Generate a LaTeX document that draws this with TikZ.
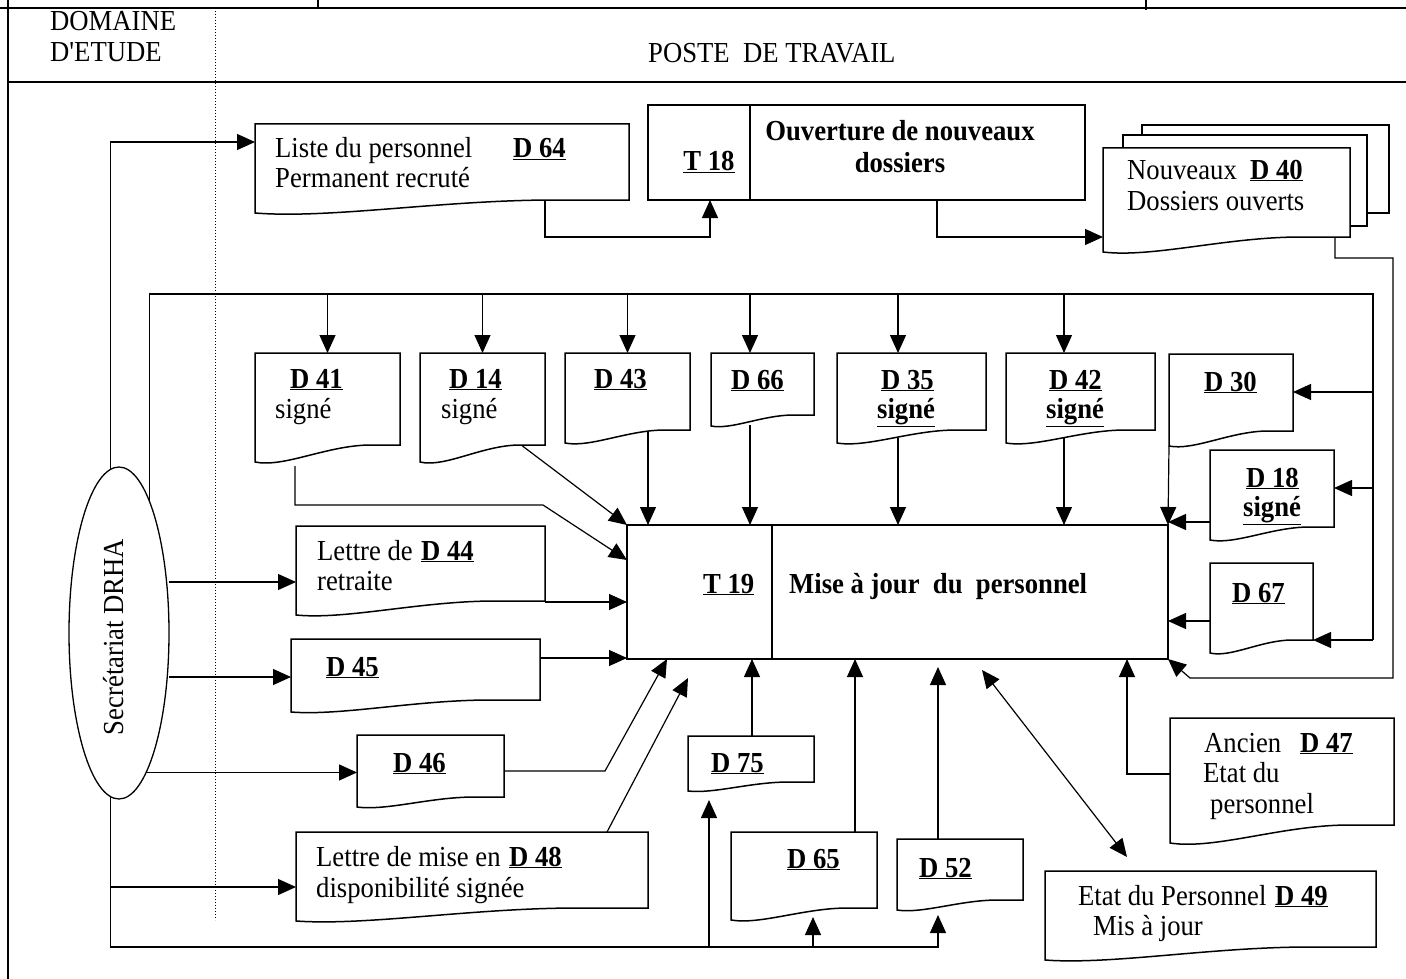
\documentclass[tikz,border=0pt]{standalone}
\usepackage{fontspec}
\setmainfont{Liberation Serif}
% same face without TeX ligature mapping, for a straight apostrophe
\newfontfamily\rawserif{Liberation Serif}
\usetikzlibrary{arrows.meta,calc,shapes.geometric,fit}

% bold underlined document / task number
\newcommand{\dnum}[1]{\underline{\textbf{#1}}}
% outline of a document symbol fitted to node #1:
% #2 = how much higher the right end of the wavy bottom is, #3 = dip of the wave
\newcommand{\docline}[3]{%
  \draw[shapeline] (#1.north west) -- (#1.north east) -- ($(#1.south east)+(0,-#2)$)
    -- ($(#1.south west)!0.8!(#1.south east)+(0,-#2)$)
    .. controls ($(#1.south west)!0.5!(#1.south east)+(0,-#2)$)
       and ($(#1.south west)!0.2!(#1.south east)+(0,#3)$) .. (#1.south west) -- cycle;}

\begin{document}
\begin{tikzpicture}[x=1pt,y=-1pt,
  shapeline/.style={line width=1.5pt, line join=miter},
  frame/.style={line width=1.3pt},
  docbox/.style={rectangle, inner sep=0pt, outer sep=0pt, draw=none},
  procbox/.style={rectangle, inner sep=0pt, outer sep=0pt, draw, line width=1.5pt},
  conn/.style={line width=1.2pt},
  arr/.style={conn, -{Triangle[length=18pt,width=16pt]}},
  darr/.style={conn, {Triangle[length=18pt,width=16pt]}-{Triangle[length=18pt,width=16pt]}},
  lbl/.style={inner sep=0pt, xscale=0.92, font=\fontsize{29}{33}\selectfont, anchor=base west},
  clbl/.style={lbl, anchor=base},
  blbl/.style={lbl, font=\fontsize{29}{33}\selectfont\bfseries}
]
\useasboundingbox (0,0) rectangle (1406,979);

% ---------- header of the table ----------
\draw[frame] (0,8) -- (1406,8);
\draw[frame] (318,0) -- (318,8);
\draw[frame] (1146,0) -- (1146,10);
\draw[frame] (8,0) -- (8,979);
\draw[frame] (8,82) -- (1406,82);
\draw[line width=1pt, dotted] (215,8) -- (215,920);
\node[lbl] (dom1) at (50,31) {DOMAINE};
\node[lbl] (dom2) at (50,62) {D{\rawserif '}ETUDE};
\node[lbl] (poste) at (648,63) {POSTE~~DE TRAVAIL};

% ---------- actor ----------
\node[ellipse, draw, line width=1.3pt, inner sep=0pt, outer sep=0pt,
      minimum width=100pt, minimum height=332pt] (sec) at (119,633) {};
\node[rotate=90, lbl, anchor=center] (sectxt) at (114,637) {Secrétariat DRHA};

% ---------- top row ----------
\node[docbox, fit={(255,124) (629,213)}] (d64) {};
\docline{d64}{13}{6}
\node[lbl] (d64a) at (275,158) {Liste du personnel};
\node[lbl] (d64n) at (513,158) {\dnum{D 64}};
\node[lbl] (d64b) at (275,188) {Permanent recruté};

\node[procbox, fit={(648,105) (1085,200)}] (t18) {};
\draw[shapeline] ($(t18.north west)+(102,0)$) -- ($(t18.south west)+(102,0)$);
\node[clbl] (t18n) at (709,171) {\dnum{T 18}};
\node[clbl, font=\fontsize{29}{33}\selectfont\bfseries] (t18a) at (900,141) {Ouverture de nouveaux};
\node[clbl, font=\fontsize{29}{33}\selectfont\bfseries] (t18b) at (900,172) {dossiers};

% stacked documents D 40
\draw[shapeline] (1142,135) -- (1142,125) -- (1389,125) -- (1389,213) -- (1367,213);
\draw[shapeline] (1123,148) -- (1123,135) -- (1367,135) -- (1367,226) -- (1350,226);
\node[docbox, fit={(1103,148) (1350,252)}] (d40) {};
\docline{d40}{15}{6}
\node[lbl] (d40a) at (1127,179) {Nouveaux};
\node[lbl] (d40n) at (1250,179) {\dnum{D 40}};
\node[lbl] (d40b) at (1127,210) {Dossiers ouverts};

% ---------- second row ----------
\node[docbox, fit={(255,353) (400,462)}] (d41) {};
\docline{d41}{17}{6}
\node[lbl] (d41n) at (290,388) {\dnum{D 41}};
\node[lbl] (d41s) at (275,418) {signé};

\node[docbox, fit={(420,353) (545,462)}] (d14) {};
\docline{d14}{17}{6}
\node[lbl] (d14n) at (449,388) {\dnum{D 14}};
\node[lbl] (d14s) at (441,418) {signé};

\node[docbox, fit={(565,353) (690,443)}] (d43) {};
\docline{d43}{13}{5}
\node[lbl] (d43n) at (594,388) {\dnum{D 43}};

\node[docbox, fit={(711,353) (814,426)}] (d66) {};
\docline{d66}{11}{4}
\node[lbl] (d66n) at (731,389) {\dnum{D 66}};

\node[docbox, fit={(837,353) (986,443)}] (d35) {};
\docline{d35}{13}{5}
\node[lbl] (d35n) at (881,389) {\dnum{D 35}};
\node[lbl] (d35s) at (877,418) {\dnum{signé}};

\node[docbox, fit={(1006,353) (1155,443)}] (d42) {};
\docline{d42}{13}{5}
\node[lbl] (d42n) at (1049,389) {\dnum{D 42}};
\node[lbl] (d42s) at (1046,418) {\dnum{signé}};

\node[docbox, fit={(1169,354) (1293,446)}] (d30) {};
\docline{d30}{15}{5}
\node[lbl] (d30n) at (1204,391) {\dnum{D 30}};

\node[docbox, fit={(1210,450) (1334,540)}] (d18) {};
\docline{d18}{13}{5}
\node[lbl] (d18n) at (1246,487) {\dnum{D 18}};
\node[lbl] (d18s) at (1243,516) {\dnum{signé}};

\node[docbox, fit={(1210,563) (1313,653)}] (d67) {};
\docline{d67}{13}{5}
\node[lbl] (d67n) at (1232,602) {\dnum{D 67}};

% ---------- central task ----------
\node[procbox, fit={(627,525) (1168,659)}] (t19) {};
\draw[shapeline] ($(t19.north west)+(145,0)$) -- ($(t19.south west)+(145,0)$);
\node[lbl] (t19n) at (703,593) {\dnum{T 19}};
\node[blbl] (t19a) at (789,593) {Mise à jour~~du~~personnel};

% ---------- left column ----------
\node[docbox, fit={(296,526) (545,615)}] (d44) {};
\docline{d44}{14}{5}
\node[lbl] (d44a) at (317,560) {Lettre de};
\node[lbl] (d44n) at (421,560) {\dnum{D 44}};
\node[lbl] (d44b) at (317,590) {retraite};

\node[docbox, fit={(291,639) (540,712)}] (d45) {};
\docline{d45}{12}{4}
\node[lbl] (d45n) at (326,676) {\dnum{D 45}};

\node[docbox, fit={(357,735) (504,807)}] (d46) {};
\docline{d46}{10}{4}
\node[lbl] (d46n) at (393,772) {\dnum{D 46}};

\node[docbox, fit={(296,832) (648,921)}] (d48) {};
\docline{d48}{13}{5}
\node[lbl] (d48a) at (316,866) {Lettre de mise en};
\node[lbl] (d48n) at (509,866) {\dnum{D 48}};
\node[lbl] (d48b) at (316,897) {disponibilité signée};

% ---------- bottom row ----------
\node[docbox, fit={(688,736) (814,791)}] (d75) {};
\docline{d75}{9}{3}
\node[lbl] (d75n) at (711,772) {\dnum{D 75}};

\node[docbox, fit={(731,832) (877,920)}] (d65) {};
\docline{d65}{12}{5}
\node[lbl] (d65n) at (787,868) {\dnum{D 65}};

\node[docbox, fit={(897,839) (1023,910)}] (d52) {};
\docline{d52}{10}{4}
\node[lbl] (d52n) at (919,877) {\dnum{D 52}};

\node[docbox, fit={(1170,718) (1394,843)}] (d47) {};
\docline{d47}{18}{7}
\node[lbl] (d47a) at (1204,752) {Ancien};
\node[lbl] (d47n) at (1300,752) {\dnum{D 47}};
\node[lbl] (d47b) at (1203,782) {Etat du};
\node[lbl] (d47c) at (1210,813) {personnel};

\node[docbox, fit={(1045,871) (1376,960)}] (d49) {};
\docline{d49}{13}{5}
\node[lbl] (d49a) at (1078,905) {Etat du Personnel};
\node[lbl] (d49n) at (1275,905) {\dnum{D 49}};
\node[lbl] (d49b) at (1093,935) {Mis à jour};

% ---------- connection points ----------
\coordinate (bus) at (1373,294);
\coordinate (busend) at (1373,640);
\coordinate (d64in) at ($(d64.north west)+(0,18)$);
\coordinate (d64out) at ($(d64.south west)+(290,-13)$);
\coordinate (t18in) at ($(t18.south west)+(62,0)$);
\coordinate (t18out) at ($(t18.south west)+(289,0)$);
\coordinate (d40in) at ($(d40.north west)+(0,89)$);
\coordinate (d40out) at ($(d40.south east)+(-15,-15)$);
\coordinate (d66in) at ($(d66.north west)+(39,0)$);
\coordinate (d35in) at ($(d35.north west)+(61,0)$);
\coordinate (d42in) at ($(d42.north west)+(58,0)$);
\coordinate (d30in) at ($(d30.north east)+(0,38)$);
\coordinate (d18in) at ($(d18.north east)+(0,38)$);
\coordinate (d41out) at ($(d41.south west)+(40,4)$);
\coordinate (d14out) at ($(d14.south west)!0.82!(d14.south east)+(0,-16)$);
\coordinate (d43out) at ($(d43.south west)+(83,-12)$);
\coordinate (d66out) at ($(d66.south west)+(39,-1)$);
\coordinate (d35out) at ($(d35.south west)+(61,-5)$);
\coordinate (d42out) at ($(d42.south west)+(58,-5)$);
\coordinate (d18out) at ($(d18.north west)+(0,72)$);
\coordinate (d67out) at ($(d67.north west)+(0,58)$);
\coordinate (t19inA) at ($(t19.north west)+(0,35)$);
\coordinate (d44in) at ($(d44.north west)+(0,56)$);
\coordinate (d44out) at ($(d44.south east)+(0,-13)$);
\coordinate (d45in) at ($(d45.north west)+(0,38)$);
\coordinate (d45out) at ($(d45.north east)+(0,19)$);
\coordinate (t19inB) at ($(t19.south west)+(40,0)$);
\coordinate (d48in) at ($(d48.north west)+(0,55)$);
\coordinate (d48out) at ($(d48.north west)+(311,0)$);
\coordinate (t19inC) at ($(t19.south west)+(61,19)$);
\coordinate (d75top) at ($(d75.north west)+(64,0)$);
\coordinate (d65top) at ($(d65.north west)+(124,0)$);
\coordinate (d52top) at ($(d52.north west)+(41,0)$);
\coordinate (bb75) at (709,947);
\coordinate (bb65) at (813,947);
\coordinate (bb52) at (938,947);
\coordinate (d75bot) at ($(d75.south west)+(21,9)$);
\coordinate (d65bot) at ($(d65.south west)+(82,-3)$);
\coordinate (d52bot) at ($(d52.south west)+(41,5)$);
\coordinate (d47out) at ($(d47.north west)+(0,56)$);
\coordinate (t19inD) at ($(t19.south east)+(-41,0)$);
\coordinate (t19io) at ($(t19.south west)+(355,11)$);
\coordinate (d49in) at ($(d49.north west)+(82,-14)$);

% ---------- flows ----------
\draw[arr] (sec.93) |- (d64in);
\draw[arr] (d64out) -- ++(0,37) -| (t18in);
\draw[arr] (t18out) |- (d40in);
\draw[arr] (d40out) |- (1393,258) |- (1190,678) -- (t19.south east);

% distribution bus from the secretariat
\draw[conn] (sec.77) |- (bus) -- (busend);
\draw[arr] (bus -| d41.north) -- (d41.north);
\draw[arr] (bus -| d14.north) -- (d14.north);
\draw[arr] (bus -| d43.north) -- (d43.north);
\draw[arr] (bus -| d66in) -- (d66in);
\draw[arr] (bus -| d35in) -- (d35in);
\draw[arr] (bus -| d42in) -- (d42in);
\draw[arr] (bus |- d30in) -- (d30in);
\draw[arr] (bus |- d18in) -- (d18in);
\draw[arr] (busend) -- (d67.south east |- busend);

% inputs of T 19 from above and from the right
\draw[arr] (d41out) |- (543,505) -- (t19inA);
\draw[arr] (d14out) -- (t19.north west);
\draw[arr] (d43out) -- (d43out |- t19.north);
\draw[arr] (d66out) -- (d66out |- t19.north);
\draw[arr] (d35out) -- (d35out |- t19.north);
\draw[arr] (d42out) -- (d42out |- t19.north);
\draw[arr] (d30.south west) -- (t19.north east);
\draw[arr] (d18out) -- (t19.east |- d18out);
\draw[arr] (d67out) -- (t19.east |- d67out);

% inputs from the left
\draw[arr] (sec.east |- d44in) -- (d44in);
\draw[arr] (sec.east |- d45in) -- (d45in);
\draw[arr] (sec.-79) -- (d46.west |- sec.-79);
\draw[arr] (sec.-93 |- d48in) -- (d48in);
\draw[arr] (d44out) -- (t19.west |- d44out);
\draw[arr] (d45out) -- (t19.west |- d45out);
\draw[arr] (d46.east) -- ++(101,0) -- (t19inB);
\draw[arr] (d48out) -- (t19inC);

% bottom bus and inputs from below
\draw[arr] (sec.-93) |- (bb52) -- (d52bot);
\draw[arr] (bb65) -- (d65bot);
\draw[arr] (bb75) -- (d75bot);
\draw[arr] (d75top) -- (d75top |- t19.south);
\draw[arr] (d65top) -- (d65top |- t19.south);
\draw[arr, shorten >=8pt] (d52top) -- (d52top |- t19.south);
\draw[arr] (d47out) -| (t19inD);
\draw[darr] (t19io) -- (d49in);
\end{tikzpicture}
\end{document}
